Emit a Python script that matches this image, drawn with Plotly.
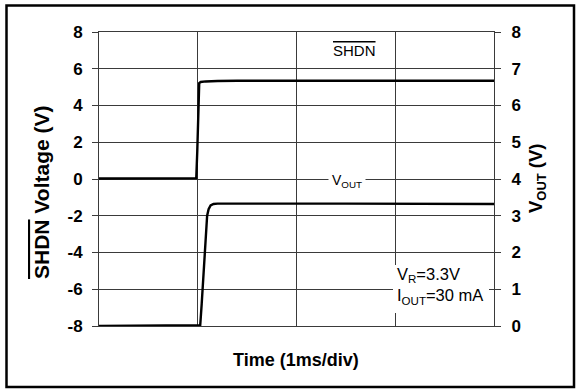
import plotly.graph_objects as go

# SHDN step (left axis, V) versus time (ms)
shdn_t = [0.0, 0.5, 0.985, 0.995, 1.005, 1.015, 1.03, 1.08, 1.2, 1.4, 2.5, 4.0]
shdn_v = [0.03, 0.03, 0.05, 1.5, 4.2, 5.22, 5.28, 5.31, 5.33, 5.35, 5.35, 5.35]

# VOUT response (right axis, V) versus time (ms)
vout_t = [0.0, 1.0, 1.025, 1.04, 1.06, 1.08, 1.095, 1.11, 1.13, 1.16, 1.2, 2.5, 4.0]
vout_v = [0.0, 0.0, 0.02, 0.6, 1.6, 2.5, 3.0, 3.18, 3.28, 3.32, 3.33, 3.33, 3.32]

left_ticks = [-8, -6, -4, -2, 0, 2, 4, 6, 8]
left_labels = ["-8", "-6", "-4", "-2", "0", "2", "4", "6", "8"]
right_ticks = [0, 1, 2, 3, 4, 5, 6, 7, 8]
right_labels = ["0", "1", "2", "3", "4", "5", "6", "7", "8"]

W, H = 577, 389
ML, MR, MT, MB = 99, 83, 32, 63
PW, PH = W - ML - MR, H - MT - MB


def px(x):
    return (x - ML) / PW


def py(y):
    return 1 - (y - MT) / PH


FONT = "Liberation Sans, Arial, sans-serif"
GRID = "#3a3a3a"
TICKFONT = dict(size=17, family=FONT, weight="bold", color="black")

fig = go.Figure()
fig.add_trace(go.Scatter(x=shdn_t, y=shdn_v, mode="lines",
                         line=dict(color="black", width=2.4), yaxis="y",
                         showlegend=False, hoverinfo="skip"))
fig.add_trace(go.Scatter(x=vout_t, y=vout_v, mode="lines",
                         line=dict(color="black", width=2.4), yaxis="y2",
                         showlegend=False, hoverinfo="skip"))

fig.update_layout(
    width=W, height=H,
    margin=dict(l=ML, r=MR, t=MT, b=MB),
    paper_bgcolor="white", plot_bgcolor="white",
    font=dict(family=FONT, color="black"),
    xaxis=dict(range=[0, 4], dtick=1, showticklabels=False, ticks="",
               showgrid=True, gridcolor=GRID, gridwidth=1, zeroline=False,
               showline=True, linecolor=GRID, linewidth=1, mirror=True),
    yaxis=dict(range=[-8, 8], tickvals=left_ticks, ticktext=left_labels,
               ticks="outside", ticklen=6, tickcolor=GRID,
               ticklabelstandoff=6, tickfont=TICKFONT, showgrid=True,
               gridcolor=GRID, gridwidth=1, zeroline=False,
               showline=True, linecolor=GRID, linewidth=1),
    yaxis2=dict(range=[0, 8], tickvals=right_ticks, ticktext=right_labels,
                overlaying="y", side="right", ticks="outside", ticklen=6,
                tickcolor=GRID, ticklabelstandoff=7, tickfont=TICKFONT,
                showgrid=False, zeroline=False, showline=True,
                linecolor=GRID, linewidth=1),
)

# white box behind the operating-condition note
fig.add_shape(type="rect", xref="paper", yref="paper",
              x0=px(393), x1=px(489), y0=py(313), y1=py(265),
              fillcolor="white", line=dict(width=0), layer="above")
# outer frame
fig.add_shape(type="rect", xref="paper", yref="paper",
              x0=px(6.5), x1=px(574), y0=py(387), y1=py(5.5),
              line=dict(color="black", width=2.5), layer="above")

# axis titles
fig.add_annotation(xref="paper", yref="paper", x=px(296), y=py(360),
                   text="<b>Time (1ms/div)</b>", showarrow=False,
                   xanchor="center", yanchor="middle", font=dict(size=18))
fig.add_annotation(xref="paper", yref="paper", x=px(41), y=py(193),
                   text="<b><span style=\"text-decoration:overline\">SHDN</span> Voltage (V)</b>",
                   showarrow=False, textangle=-90, xanchor="center",
                   yanchor="middle", font=dict(size=21))
fig.add_annotation(xref="paper", yref="paper", x=px(537), y=py(179),
                   text="<b>V<sub>OUT</sub> (V)</b>", showarrow=False,
                   textangle=-90, xanchor="center", yanchor="middle",
                   font=dict(size=18.5))

# trace labels and operating conditions
fig.add_annotation(xref="paper", yref="paper", x=px(354), y=py(51),
                   text="<span style=\"text-decoration:overline\">SHDN</span>",
                   showarrow=False, xanchor="center", yanchor="middle",
                   font=dict(size=15))
fig.add_annotation(xref="paper", yref="y", x=px(347), y=0,
                   text="V<sub>OUT</sub>", showarrow=False,
                   xanchor="center", yanchor="middle",
                   font=dict(size=14), bgcolor="white", borderpad=3,
                   yshift=-2)
fig.add_annotation(xref="paper", yref="paper", x=px(395), y=py(286),
                   text="V<sub>R</sub>=3.3V<br>I<sub>OUT</sub>=30 mA",
                   showarrow=False, xanchor="left", yanchor="middle",
                   align="left", font=dict(size=16.5))

fig.write_html("out.html")
